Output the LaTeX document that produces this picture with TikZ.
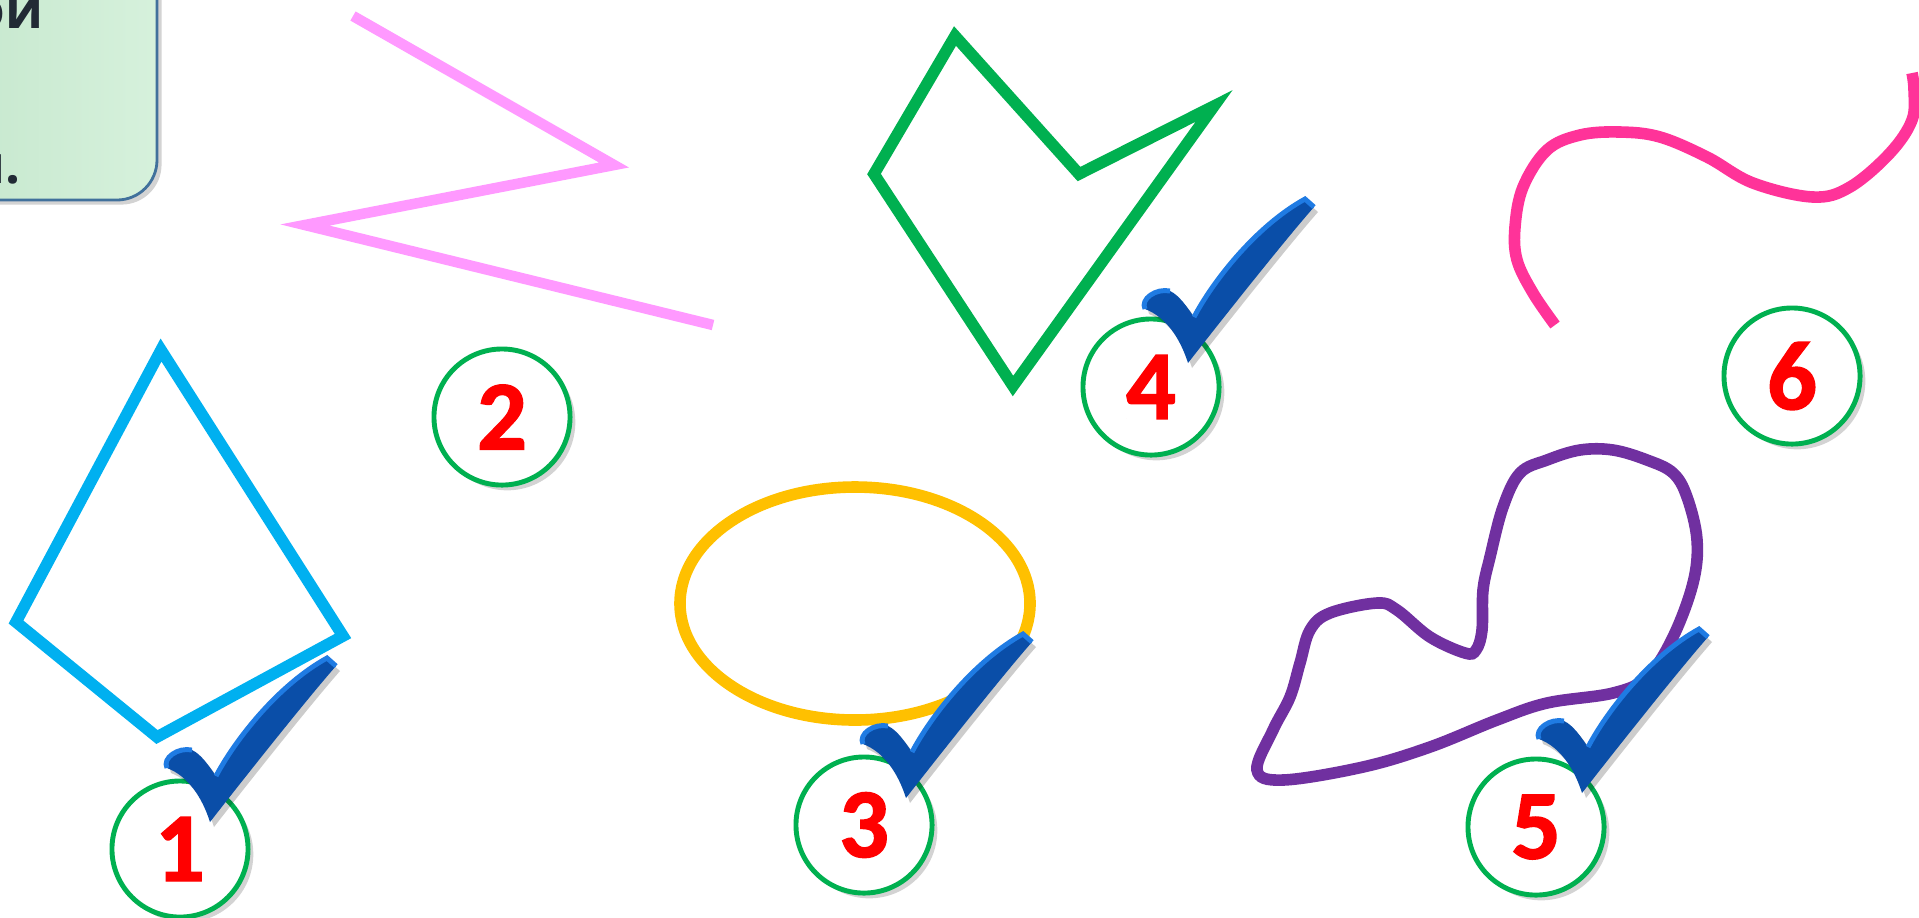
\documentclass[tikz,border=0pt]{standalone}
\usepackage{fontspec}
\newfontfamily\numfont{Carlito}[BoldFeatures={FakeBold=1.5}]
\newfontfamily\boxfont{Open Sans}
\usetikzlibrary{shadows}
\definecolor{numgreen}{HTML}{00B050}
\definecolor{kiteblue}{HTML}{00B0F0}
\definecolor{zigpink}{HTML}{FF99FF}
\definecolor{ovalgold}{HTML}{FFC000}
\definecolor{loopviolet}{HTML}{7030A0}
\definecolor{wavepink}{HTML}{FF3399}
\definecolor{boxblue}{HTML}{41719C}
\definecolor{boxgreenA}{HTML}{C3E6CB}
\definecolor{boxgreenB}{HTML}{D6F1DC}
\definecolor{textdark}{HTML}{222A35}
\definecolor{tickdark}{HTML}{0A4EA8}
\definecolor{ticklight}{HTML}{1F7BE3}
\newcommand\tickpath{(0,0) .. controls (-8,-25) and (-22,-46) .. (-43,-54)
  .. controls (-48,-64) and (-32,-75) .. (-18,-72)
  .. controls (-9,-68) and (-1,-56) .. (6,-46)
  .. controls (25,-82) and (68,-137) .. (117,-164) -- (126,-156)
  .. controls (96,-122) and (28,-36) .. (0,0) -- cycle}
\tikzset{
  figline/.style={line width=3.3pt,line join=miter},
  num/.style={circle,draw=numgreen,line width=1.4pt,fill=white,minimum size=1.36cm,inner sep=0pt,
    text=red,font=\numfont\bfseries\fontsize{28}{28}\selectfont,
    drop shadow={opacity=0.35,shadow xshift=1.5pt,shadow yshift=-1.5pt}},
  infobox/.style={rounded corners=0.4cm,draw=boxblue,line width=0.8pt,left color=boxgreenA,right color=boxgreenB,
    drop shadow={opacity=0.35,shadow xshift=1.3pt,shadow yshift=-1.3pt}},
  boxtext/.style={font=\boxfont\bfseries\fontsize{15}{15}\selectfont,text=textdark,inner sep=0pt},
  tick/.pic={
    \fill[black,opacity=0.2,shift={(4,5)}] \tickpath;
    \fill[tickdark] \tickpath;
    \draw[ticklight,line width=1.4pt] (-43,-54) .. controls (-48,-64) and (-32,-75) .. (-18,-72);
    \draw[ticklight,line width=1.4pt] (6,-46) .. controls (25,-82) and (68,-137) .. (117,-164) -- (126,-156);
  }
}
\begin{document}
\begin{tikzpicture}[x=0.01cm,y=-0.01cm]
  \useasboundingbox (0,0) rectangle (1919,917);
  % task box, cut by the page edge
  \draw[infobox] (-80,-60) rectangle (157,200);
  \node[boxtext,anchor=base east] (t1) at (44,28) {ои};
  \node[boxtext,anchor=base east] (t3) at (21,183) {и.};
  % the six lines
  \draw[figline,kiteblue] (161,350) -- (343,636) -- (157,737) -- (16,622) -- cycle;
  \draw[figline,zigpink,line width=3pt] (353,16) -- (614,165) -- (305,225) -- (713,325);
  \draw[figline,ovalgold] (855,603.5) ellipse [x radius=175,y radius=116.5];
  \draw[figline,numgreen] (955,36) -- (1079,174) -- (1214,106) -- (1013,386) -- (874,174) -- cycle;
  \draw[figline,loopviolet] plot[smooth cycle,tension=0.6] coordinates {(1257,770) (1283,780) (1363,767) (1430,747)
    (1497,720) (1547,703) (1613,693) (1647,677) (1673,637) (1693,583) (1697,540) (1687,497) (1673,473)
    (1647,460) (1613,450) (1580,450) (1547,460) (1520,473) (1503,507) (1490,557) (1483,590) (1482,630)
    (1476,650) (1465,653) (1430,637) (1397,610) (1377,603) (1330,613) (1310,630) (1300,663) (1290,697) (1273,730)};
  \draw[figline,wavepink] plot[smooth,tension=0.6] coordinates {(1555,325) (1533,293) (1517,260) (1515,227)
    (1523,187) (1547,150) (1580,135) (1620,132) (1660,137) (1707,157) (1753,183) (1813,197) (1850,187)
    (1890,153) (1912,120) (1914,90) (1912,73)};
  % numbers
  \node[num] (n1) at (180,849) {1};
  \node[num] (n2) at (502,417) {2};
  \node[num] (n3) at (864,825) {3};
  \node[num] (n4) at (1151,387) {4};
  \node[num] (n5) at (1536,827) {5};
  \node[num] (n6) at (1792,376) {6};
  % ticks
  \foreach \x/\y in {210/822,906/798,1188/363,1582/793}
    \pic at (\x,\y) {tick};
\end{tikzpicture}
\end{document}
